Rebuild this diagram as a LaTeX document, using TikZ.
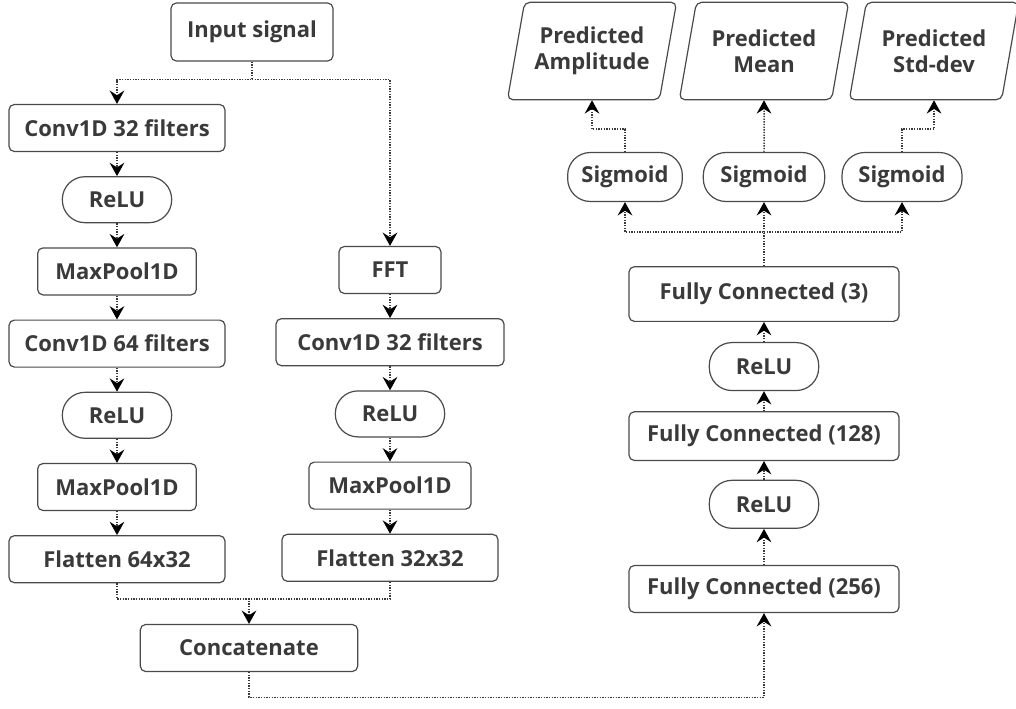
\documentclass[tikz,border=0pt]{standalone}
\usepackage{fontspec}
\setmainfont{Open Sans}
\usetikzlibrary{arrows.meta,positioning,shapes.geometric,calc}
\definecolor{edge}{HTML}{4A4A4A}
\definecolor{ink}{HTML}{3A3A3A}

\begin{document}
\begin{tikzpicture}[x=0.75pt,y=-0.75pt,node distance=18pt,
    font=\fontsize{16.5}{19.5}\selectfont\bfseries,
    layer/.style={draw=edge,line width=0.9pt,rounded corners=4pt,text=ink,minimum height=35.25pt,inner sep=2pt},
    act/.style={layer,rounded corners=17pt,minimum width=82pt,minimum height=34.5pt},
    outbox/.style={draw=edge,line width=0.9pt,rounded corners=4pt,text=ink,align=center,shape=trapezium,
        trapezium left angle=74,trapezium right angle=106,trapezium stretches=true,
        minimum width=127pt,minimum height=73pt,inner sep=2pt},
    flow/.style={-{Stealth[length=10pt,width=11pt,inset=3.5pt,color=black,fill=black]},
        draw=ink,line width=1.1pt,dash pattern=on 1pt off 1pt}]

    \useasboundingbox (0,0) rectangle (1016,709);

    \node[layer,minimum width=121.5pt,minimum height=43.5pt] (in) at (252,32) {Input signal};

    \node[layer,minimum width=162pt] (conva) at (117,128) {Conv1D 32 filters};
    \node[act] (relua) [below=of conva] {ReLU};
    \node[layer,minimum width=119pt] (poola) [below=of relua] {MaxPool1D};
    \node[layer,minimum width=162pt] (convb) [below=of poola] {Conv1D 64 filters};
    \node[act] (relub) [below=of convb] {ReLU};
    \node[layer,minimum width=119pt] (poolb) [below=of relub] {MaxPool1D};
    \node[layer,minimum width=162pt] (flata) [below=of poolb] {Flatten 64x32};

    \node[layer,minimum width=76.5pt] (fft) at (390,270) {FFT};
    \node[layer,minimum width=171pt] (convc) [below=of fft] {Conv1D 32 filters};
    \node[act] (reluc) [below=of convc] {ReLU};
    \node[layer,minimum width=121.5pt] (poolc) [below=of reluc] {MaxPool1D};
    \node[layer,minimum width=162pt] (flatb) [below=of poolc] {Flatten 32x32};

    \node[layer,minimum width=163pt] (concat) at (249,648) {Concatenate};

    \node[layer,minimum width=202.5pt] (fcc) at (764,589) {Fully Connected (256)};
    \node[act,minimum height=36pt] (relud) [above=27pt of fcc] {ReLU};
    \node[layer,minimum width=202.5pt,minimum height=36.5pt] (fcb) [above=14pt of relud] {Fully Connected (128)};
    \node[act,minimum height=36pt] (relue) [above=15pt of fcb] {ReLU};
    \node[layer,minimum width=202.5pt,minimum height=41pt] (fca) [above=15pt of relue] {Fully Connected (3)};

    \node[act,minimum width=86pt,minimum height=36.75pt] (siga) at (625,177) {Sigmoid};
    \node[act,minimum width=91pt,minimum height=36.75pt] (sigb) at (764,177) {Sigmoid};
    \node[act,minimum width=90pt,minimum height=36.75pt] (sigc) at (902,177) {Sigmoid};

    \node[outbox] (pa) at (592,51) {Predicted\\Amplitude};
    \node[outbox] (pb) at (764,51) {Predicted\\Mean};
    \node[outbox] (pc) at (934,51) {Predicted\\Std-dev};

    \coordinate (split) at ($(in.south)+(0,-13.5pt)$);
    \draw[flow] (in.south) -- (split) -| (conva.north);
    \draw[flow] (split) -| (fft.north);

    \foreach \a/\b in {conva/relua,relua/poola,poola/convb,convb/relub,relub/poolb,poolb/flata,
                       fft/convc,convc/reluc,reluc/poolc,poolc/flatb,
                       fcc/relud,relud/fcb,fcb/relue,relue/fca,sigb/pb}
        \draw[flow] (\a) -- (\b);

    \coordinate (merge) at ($(concat.north)+(0,18.75pt)$);
    \draw[flow] (flata.south) |- (merge) -- (concat.north);
    \draw[flow,-] (flatb.south) |- (merge);

    \coordinate (low) at ($(concat.south)+(0,-19pt)$);
    \draw[flow] (concat.south) -- (low) -| (fcc.south);

    \coordinate (fan) at ($(fca.north)+(0,25.5pt)$);
    \draw[flow] (fca.north) -- (fan) -| (siga.south);
    \draw[flow] (fan) -- (sigb.south);
    \draw[flow] (fan) -| (sigc.south);

    \coordinate (ka) at ($(siga.north)+(0,17pt)$);
    \coordinate (kc) at ($(sigc.north)+(0,17pt)$);
    \draw[flow] (siga.north) -- (ka) -| (pa.south);
    \draw[flow] (sigc.north) -- (kc) -| (pc.south);

\end{tikzpicture}
\end{document}
